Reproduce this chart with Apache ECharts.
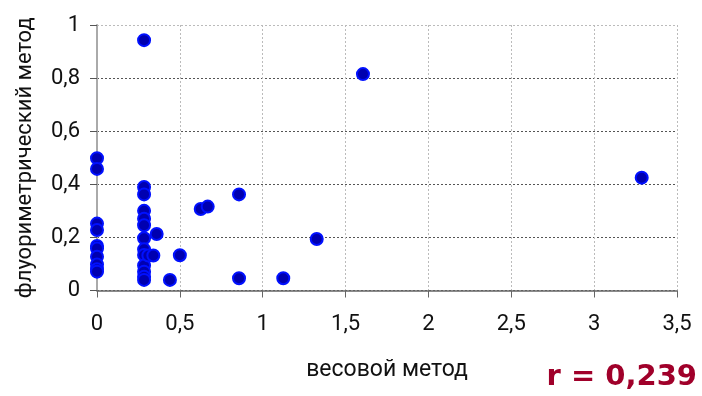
<!DOCTYPE html>
<html><head><meta charset="utf-8">
<script src="https://cdn.jsdelivr.net/npm/echarts@6/dist/echarts.min.js"></script>
<style>html,body{margin:0;padding:0;background:#fff}#c{width:702px;height:396px}</style>
</head><body><div id="c"></div>
<script>
// весовой метод (x) and флуориметрический метод (y)
const xValues = [0,0,0,0,0,0,0,0,0,0,
  0.284,0.284,0.284,0.284,0.284,0.284,0.284,0.284,0.284,0.284,0.284,0.284,0.284,
  0.31,0.34,0.36,0.44,0.50,0.626,0.668,0.857,0.857,1.124,1.326,1.605,3.287];
const yValues = [0.498,0.458,0.252,0.228,0.168,0.158,0.127,0.098,0.08,0.071,
  0.943,0.39,0.362,0.30,0.27,0.246,0.197,0.155,0.134,0.094,0.071,0.052,0.040,
  0.132,0.132,0.213,0.040,0.133,0.307,0.316,0.362,0.046,0.046,0.194,0.815,0.425];
const xTicks = [0,0.5,1,1.5,2,2.5,3,3.5];
const yTicks = [0,0.2,0.4,0.6,0.8,1];
const xName = 'весовой метод';
const yName = 'флуориметрический метод';
const rText = 'r = 0,239';

const points = xValues.map((x,i)=>[x,yValues[i]]);
const fmt = v => String(v).replace('.', ',');
const chart = echarts.init(document.getElementById('c'));
chart.setOption({
  animation:false,
  textStyle:{fontFamily:'Roboto'},
  grid:{left:97,right:25,top:25,bottom:105.5,containLabel:false},
  xAxis:{type:'value',min:xTicks[0],max:xTicks[xTicks.length-1],interval:0.5,
    axisLine:{show:true,onZero:false,lineStyle:{color:'#666',width:1.5}},
    axisTick:{show:true,length:7,lineStyle:{color:'#666'}},
    axisLabel:{formatter:fmt,color:'#111',fontSize:22,margin:23,fontFamily:'Roboto'},
    splitLine:{show:true,lineStyle:{color:'#bbb',type:[2,2],width:1}},
    name:xName,nameLocation:'middle',nameGap:68,
    nameTextStyle:{color:'#111',fontSize:23,fontFamily:'Roboto'}
  },
  yAxis:{type:'value',min:yTicks[0],max:yTicks[yTicks.length-1],interval:0.2,
    axisLine:{show:true,onZero:false,lineStyle:{color:'#aaa',width:2}},
    axisTick:{show:true,length:7,lineStyle:{color:'#555'}},
    axisLabel:{formatter:fmt,color:'#111',fontSize:22,margin:17,fontFamily:'Roboto'},
    splitLine:{show:true,lineStyle:{color:['#555','#555','#555','#555','#555','#bbb'],type:[2,2],width:1}},
    name:yName,nameLocation:'middle',nameGap:61,
    nameTextStyle:{color:'#111',fontSize:22,fontFamily:'Roboto'}
  },
  graphic:[{type:'text',right:5,top:363,style:{text:rText,fill:'#A0002A',
    font:'bold 29px "DejaVu Sans"',textAlign:'right'}}],
  series:[{type:'scatter',data:points,symbol:'circle',symbolSize:12,
    itemStyle:{color:'#0000B0',borderColor:'#0010FF',borderWidth:2,opacity:1}}]
});
</script></body></html>
